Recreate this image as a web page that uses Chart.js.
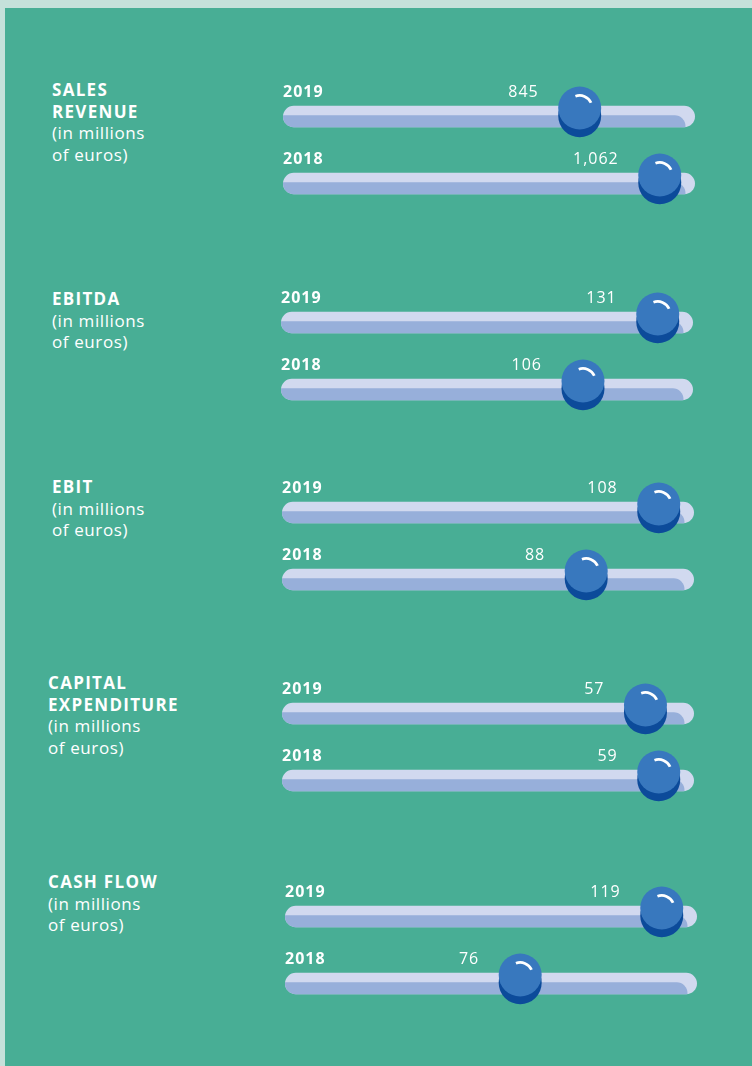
<!DOCTYPE html>
<html>
<head>
<meta charset="utf-8">
<script src="https://cdn.jsdelivr.net/npm/chart.js@4/dist/chart.umd.min.js"></script>
<style>
  html, body { margin: 0; padding: 0; }
  body { width: 752px; height: 1066px; background: #c5e1da; position: relative; overflow: hidden; }
  #panel { position: absolute; left: 5px; top: 8px; right: 0; bottom: 0; background: #48ae95; }
  .title { position: absolute; color: #fff; font-family: "Open Sans", sans-serif; white-space: pre; }
  .title b { display: block; font-weight: 700; font-size: 17px; line-height: 21.7px; letter-spacing: 1.3px; }
  .title span { display: block; font-weight: 400; font-size: 17px; line-height: 21.7px; letter-spacing: 0.6px; }
  canvas { position: absolute; }
</style>
</head>
<body>
<div id="panel"></div>
<script>
// data
const years = ['2019', '2018'];
const salesRevenue = [845, 1062];
const ebitda = [131, 106];
const ebit = [108, 88];
const capitalExpenditure = [57, 59];
const cashFlow = [119, 76];

const metricTitles = ['SALES\nREVENUE', 'EBITDA', 'EBIT', 'CAPITAL\nEXPENDITURE', 'CASH FLOW'];
const unitLabel = '(in millions\nof euros)';
const metricValues = [salesRevenue, ebitda, ebit, capitalExpenditure, cashFlow];

// layout of each block (page pixels)
const blockLayout = [
    { titleX: 52, titleY: 79,  trackLeft: 283, rowY: 116 },
    { titleX: 52, titleY: 288, trackLeft: 281, rowY: 322 },
    { titleX: 52, titleY: 476, trackLeft: 282, rowY: 512.5 },
    { titleX: 48, titleY: 672, trackLeft: 282, rowY: 713 },
    { titleX: 48, titleY: 871, trackLeft: 285, rowY: 916 }
];

const TRACK_LEN = 412;
const ZERO_GAP = 15;   // zero of the scale sits a little left of the track
const PAD = { left: 10, right: 20, top: 20, bottom: 20 };
const TRACK_H = 21.5;
const KNOB_R = 21.5;

const colors = {
    trackLight: '#d1d9ef',
    trackDark: '#97afda',
    knob: '#3878be',
    knobShadow: '#0c4b9a'
};

function drawTrack(ctx, left, right, cy) {
    const r = TRACK_H / 2;
    ctx.save();
    ctx.beginPath();
    ctx.roundRect(left, cy - r, right - left, TRACK_H, r);
    ctx.fillStyle = colors.trackLight;
    ctx.fill();
    ctx.clip();
    ctx.beginPath();
    ctx.roundRect(left - 9.5, cy - r + 9.5, right - left, TRACK_H, r);
    ctx.fillStyle = colors.trackDark;
    ctx.fill();
    ctx.restore();
}

function drawKnob(ctx, x, cy) {
    ctx.save();
    ctx.beginPath();
    ctx.arc(x, cy - 0.8, KNOB_R, 0, Math.PI * 2);
    ctx.fillStyle = colors.knobShadow;
    ctx.fill();
    ctx.beginPath();
    ctx.arc(x, cy - 8.5, KNOB_R, 0, Math.PI * 2);
    ctx.fillStyle = colors.knob;
    ctx.fill();
    ctx.beginPath();
    ctx.arc(x, cy - 8.5, 12.5, -110 * Math.PI / 180, -25 * Math.PI / 180);
    ctx.strokeStyle = '#ffffff';
    ctx.lineWidth = 2.8;
    ctx.stroke();
    ctx.restore();
}

const sliderPlugin = {
    id: 'slider',
    beforeDatasetsDraw(chart) {
        const { ctx, chartArea } = chart;
        const meta = chart.getDatasetMeta(0);
        meta.data.forEach(bar => {
            drawTrack(ctx, chartArea.left + ZERO_GAP, chartArea.right, bar.y);
        });
    },
    afterDatasetsDraw(chart) {
        const { ctx, chartArea } = chart;
        const meta = chart.getDatasetMeta(0);
        const values = chart.data.datasets[0].data;
        meta.data.forEach((bar, i) => {
            drawKnob(ctx, bar.x, bar.y);
            ctx.save();
            ctx.fillStyle = '#ffffff';
            ctx.textBaseline = 'alphabetic';
            ctx.font = 'bold 16px "Open Sans"';
            ctx.letterSpacing = '1px';
            ctx.textAlign = 'left';
            ctx.fillText(chart.data.labels[i], chartArea.left + ZERO_GAP, bar.y - 19.5);
            ctx.font = '16px "Open Sans"';
            ctx.textAlign = 'right';
            ctx.fillText(values[i].toLocaleString('en-US'), bar.x - 41, bar.y - 19.5);
            ctx.restore();
        });
    }
};

metricValues.forEach((values, g) => {
    const lay = blockLayout[g];

    // title text on the left
    const title = document.createElement('div');
    title.className = 'title';
    title.style.left = lay.titleX + 'px';
    title.style.top = lay.titleY + 'px';
    const b = document.createElement('b');
    b.textContent = metricTitles[g];
    const s = document.createElement('span');
    s.textContent = unitLabel;
    title.appendChild(b);
    title.appendChild(s);
    document.body.appendChild(title);

    // one small chart per block
    const canvas = document.createElement('canvas');
    const chartH = 134;
    canvas.width = PAD.left + ZERO_GAP + TRACK_LEN + PAD.right;
    canvas.height = PAD.top + chartH + PAD.bottom;
    canvas.style.left = (lay.trackLeft - ZERO_GAP - PAD.left) + 'px';
    canvas.style.top = (lay.rowY - chartH / 4 - PAD.top) + 'px';
    document.body.appendChild(canvas);

    new Chart(canvas.getContext('2d'), {
        type: 'bar',
        data: {
            labels: years,
            datasets: [{
                data: values,
                backgroundColor: 'rgba(0,0,0,0)',
                borderWidth: 0
            }]
        },
        options: {
            indexAxis: 'y',
            responsive: false,
            animation: false,
            layout: { padding: PAD },
            plugins: { legend: { display: false }, tooltip: { enabled: false } },
            scales: {
                x: { display: false, min: 0, max: Math.max(...values) * 1.09 },
                y: { display: false }
            }
        },
        plugins: [sliderPlugin]
    });
});
</script>
</body>
</html>
